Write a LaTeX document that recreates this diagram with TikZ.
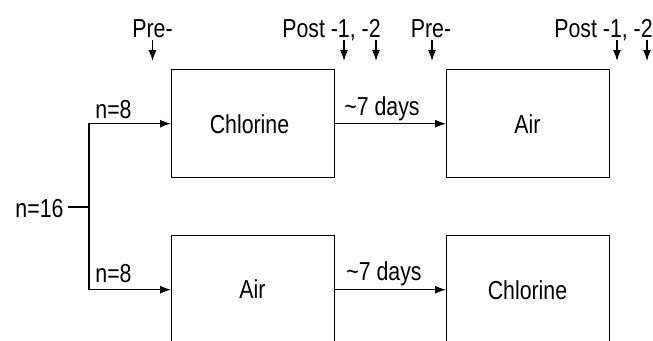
\documentclass[tikz,border=0pt]{standalone}
\usepackage{fontspec}
\setmainfont{Liberation Sans}[FakeStretch=0.82]
\usetikzlibrary{arrows.meta}
\begin{document}
\begin{tikzpicture}[x=1pt,y=-1pt,
  font=\fontsize{26}{30}\selectfont,
  box/.style={draw, line width=1.4pt, minimum width=163pt, minimum height=108pt, inner sep=0pt, anchor=north west},
  arr/.style={line width=1.3pt, -{Latex[length=11pt,width=8pt]}},
  ln/.style={line width=1.3pt},
  lbl/.style={anchor=base, inner sep=0pt}]
\clip (0,0) rectangle (653,340);
% boxes
\node[box] (b1) at (171,69) {};
\node[box] (b2) at (446,69) {};
\node[box] (b3) at (171,235) {};
\node[box] (b4) at (446,235) {};
% box texts
\node[lbl] (t1) at (249.5,133) {Chlorine};
\node[lbl] (t2) at (527.5,133) {Air};
\node[lbl] (t3) at (252.5,298) {Air};
\node[lbl] (t4) at (527.5,299) {Chlorine};
% branch
\node[lbl] (n16) at (39.5,217) {n=16};
\coordinate (s) at (68,207);
\coordinate (j) at (89,207);
\draw[ln] (s) -- (j);
\draw[arr] (j) |- (b1.west);
\draw[arr] (j) |- (b3.west);
\node[lbl] (n8a) at (113.5,118) {n=8};
\node[lbl] (n8b) at (113.5,282) {n=8};
% between boxes
\draw[arr] (b1.east) -- (b2.west);
\draw[arr] (b3.east) -- (b4.west);
\node[lbl] (d1) at (382,115) {\char"7E 7 days};
\node[lbl] (d2) at (384,280) {\char"7E 7 days};
% top labels
\node[lbl] (pre1) at (152.5,37) {Pre-};
\node[lbl] (post1) at (331.5,37) {Post -1, -2};
\node[lbl] (pre2) at (431,37) {Pre-};
\node[lbl] (post2) at (603.5,37) {Post -1, -2};
% down arrows
\foreach \n/\x in {a/152.5, b/344, c/376, d/432, e/617, f/647} {
  \coordinate (top\n) at (\x,40);
  \coordinate (bot\n) at (\x,61);
  \draw[arr] (top\n) -- (bot\n);
}
\end{tikzpicture}
\end{document}
